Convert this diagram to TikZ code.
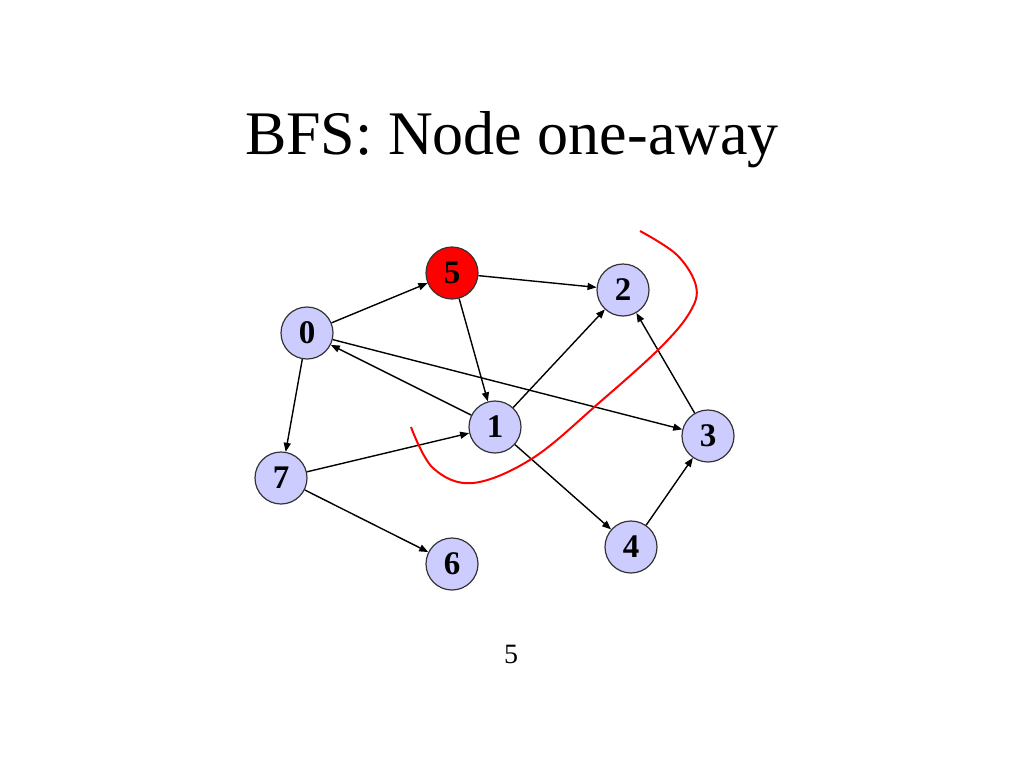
\documentclass[tikz,border=0pt]{standalone}
\usepackage{fontspec}
\setmainfont{Liberation Serif}
\usetikzlibrary{arrows.meta}

\begin{document}
\begin{tikzpicture}[x=1pt,y=-1pt,
vertex/.style={circle,fill=blue!20,draw=black!80,line width=1.2pt,minimum size=52pt,inner sep=0pt,font=\fontsize{33}{33}\selectfont\bfseries},
start/.style={vertex,fill=red},
myedge/.style={-{Triangle[length=9pt,width=7pt]},line width=1.4pt},scale=1.0]
\useasboundingbox (0,0) rectangle (1024,768);
\node[anchor=base] (title) at (512,154) {\fontsize{62}{70}\selectfont BFS: Node one-away};
\node[start]  (v5) at (452,273) {5};
\node[vertex] (v2) at (623,290) {2};
\node[vertex] (v0) at (307,333) {0};
\node[vertex] (v1) at (495,427) {1};
\node[vertex] (v3) at (708,436) {3};
\node[vertex] (v7) at (281,478) {7};
\node[vertex] (v4) at (631,547) {4};
\node[vertex] (v6) at (452,564) {6};
\draw[myedge] (v0) -- (v5);
\draw[myedge] (v5) -- (v2);
\draw[myedge] (v5) -- (v1);
\draw[myedge] (v1) -- (v0);
\draw[myedge] (v0) -- (v3);
\draw[myedge] (v0) -- (v7);
\draw[myedge] (v7) -- (v1);
\draw[myedge] (v1) -- (v2);
\draw[myedge] (v1) -- (v4);
\draw[myedge] (v3) -- (v2);
\draw[myedge] (v4) -- (v3);
\draw[myedge] (v7) -- (v6);
% frontier
\draw[red,line width=2pt] plot[smooth,tension=0.6] coordinates {(640,231) (677,255) (696,286) (690,312) (660,348) (600,402) (533,458) (473,483) (433,468) (411,427)};
\node[anchor=base] (page) at (511,663) {\fontsize{28}{30}\selectfont 5};
\end{tikzpicture}
\end{document}
